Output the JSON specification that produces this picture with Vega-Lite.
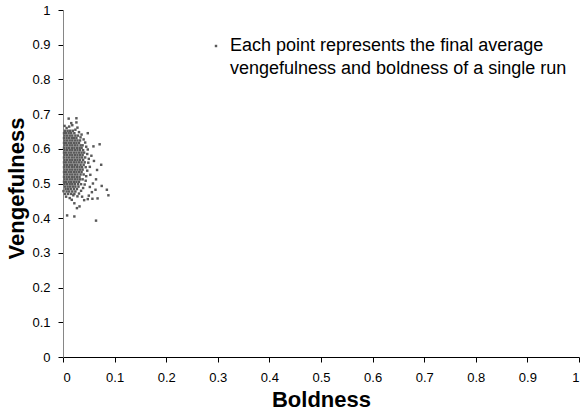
{
  "$schema": "https://vega.github.io/schema/vega-lite/v6.json",
  "width": 516,
  "height": 347,
  "autosize": "none",
  "padding": {"left": 63, "top": 10, "right": 2, "bottom": 58},
  "background": "white",
  "config": {"view": {"stroke": null}, "font": "Liberation Sans"},
  "datasets": {
    "core": [
      {"v":0.652,"b":[0.004,0.009,0.014,0.019]},
      {"v":0.645,"b":[0.002,0.006,0.011,0.016,0.022]},
      {"v":0.638,"b":[0.003,0.008,0.013,0.018,0.024,0.029]},
      {"v":0.631,"b":[0.002,0.007,0.012,0.017,0.021,0.026]},
      {"v":0.624,"b":[0.003,0.008,0.013,0.018,0.023,0.028,0.033]},
      {"v":0.617,"b":[0.002,0.006,0.011,0.016,0.021,0.026,0.031]},
      {"v":0.610,"b":[0.003,0.008,0.013,0.018,0.023,0.028,0.034,0.038]},
      {"v":0.603,"b":[0.002,0.007,0.012,0.017,0.022,0.027,0.032,0.036]},
      {"v":0.596,"b":[0.003,0.008,0.013,0.018,0.023,0.028,0.033,0.039]},
      {"v":0.589,"b":[0.002,0.006,0.011,0.016,0.021,0.026,0.031,0.036,0.041]},
      {"v":0.582,"b":[0.003,0.008,0.013,0.018,0.023,0.028,0.033,0.038]},
      {"v":0.575,"b":[0.002,0.007,0.012,0.017,0.022,0.027,0.032,0.037,0.043]},
      {"v":0.568,"b":[0.003,0.008,0.013,0.018,0.023,0.028,0.033,0.039]},
      {"v":0.561,"b":[0.002,0.006,0.011,0.016,0.021,0.026,0.031,0.036,0.042]},
      {"v":0.554,"b":[0.003,0.008,0.013,0.018,0.023,0.028,0.034,0.040]},
      {"v":0.547,"b":[0.002,0.007,0.012,0.017,0.022,0.027,0.032,0.037,0.044]},
      {"v":0.540,"b":[0.003,0.008,0.013,0.018,0.023,0.028,0.033,0.038]},
      {"v":0.533,"b":[0.002,0.006,0.011,0.016,0.021,0.026,0.031,0.036]},
      {"v":0.526,"b":[0.003,0.008,0.013,0.018,0.023,0.028,0.034,0.040]},
      {"v":0.519,"b":[0.002,0.007,0.012,0.017,0.022,0.027,0.032]},
      {"v":0.512,"b":[0.003,0.008,0.013,0.018,0.023,0.028,0.033,0.038]},
      {"v":0.505,"b":[0.002,0.006,0.011,0.016,0.021,0.026,0.031]},
      {"v":0.498,"b":[0.003,0.008,0.013,0.018,0.023,0.029,0.035]},
      {"v":0.491,"b":[0.004,0.009,0.014,0.019,0.024,0.030]},
      {"v":0.484,"b":[0.005,0.010,0.015,0.021,0.027]},
      {"v":0.477,"b":[0.007,0.012,0.018,0.024]},
      {"v":0.470,"b":[0.010,0.016,0.022]}
    ],
    "extra": [
      {"b":0.031,"v":0.648},{"b":0.036,"v":0.641},{"b":0.034,"v":0.633},{"b":0.040,"v":0.627},
      {"b":0.043,"v":0.618},{"b":0.045,"v":0.606},{"b":0.048,"v":0.598},{"b":0.047,"v":0.585},
      {"b":0.050,"v":0.571},{"b":0.049,"v":0.560},{"b":0.052,"v":0.548},{"b":0.047,"v":0.537},
      {"b":0.045,"v":0.521},{"b":0.044,"v":0.508},{"b":0.042,"v":0.497},{"b":0.039,"v":0.487},
      {"b":0.035,"v":0.479},{"b":0.031,"v":0.471},{"b":0.028,"v":0.463},{"b":0.004,"v":0.470},
      {"b":0.001,"v":0.478},{"b":0.006,"v":0.462},{"b":0.013,"v":0.458},{"b":0.020,"v":0.466},
      {"b":0.024,"v":0.655},{"b":0.028,"v":0.661},{"b":0.007,"v":0.660},{"b":0.012,"v":0.664},
      {"b":0.018,"v":0.668},{"b":0.003,"v":0.666},
      {"b":0.011,"v":0.687},{"b":0.026,"v":0.688},{"b":0.026,"v":0.676},{"b":0.016,"v":0.674},
      {"b":0.048,"v":0.645},{"b":0.071,"v":0.613},{"b":0.059,"v":0.607},
      {"b":0.074,"v":0.554},{"b":0.066,"v":0.539},{"b":0.064,"v":0.512},{"b":0.075,"v":0.493},
      {"b":0.085,"v":0.482},{"b":0.088,"v":0.466},{"b":0.063,"v":0.482},{"b":0.067,"v":0.457},
      {"b":0.057,"v":0.456},{"b":0.048,"v":0.455},{"b":0.027,"v":0.429},{"b":0.032,"v":0.434},
      {"b":0.022,"v":0.443},{"b":0.008,"v":0.408},{"b":0.022,"v":0.405},{"b":0.064,"v":0.393},
      {"b":0.017,"v":0.453},{"b":0.037,"v":0.462},{"b":0.055,"v":0.580},{"b":0.060,"v":0.565},
      {"b":0.053,"v":0.525},{"b":0.058,"v":0.500},{"b":0.052,"v":0.490},{"b":0.056,"v":0.475},
      {"b":0.041,"v":0.452},{"b":0.050,"v":0.465}
    ]
  },
  "encoding": {
    "x": {"field": "b", "type": "quantitative",
      "scale": {"domain": [0, 1], "nice": false, "zero": true},
      "axis": {"title": "Boldness", "values": [0,0.1,0.2,0.3,0.4,0.5,0.6,0.7,0.8,0.9,1],
        "grid": false, "domainColor": "#000000", "tickColor": "#000000", "tickSize": 5,
        "labelPadding": 9, "labelFontSize": 13, "labelColor": "#000000", "labelOverlap": false,
        "titleFontSize": 22, "titleFontWeight": "bold", "titleColor": "#000000", "titlePadding": 5,
        "labelExpr": "datum.value == 0 ? '0' : datum.value == 1 ? '1' : format(datum.value, '.1f')"}},
    "y": {"field": "v", "type": "quantitative",
      "scale": {"domain": [0, 1], "nice": false, "zero": true},
      "axis": {"title": "Vengefulness", "values": [0,0.1,0.2,0.3,0.4,0.5,0.6,0.7,0.8,0.9,1],
        "grid": false, "domainColor": "#868686", "tickColor": "#000000", "tickSize": 5,
        "labelPadding": 8, "labelFontSize": 13, "labelColor": "#000000", "labelOverlap": false,
        "titleFontSize": 22, "titleFontWeight": "bold", "titleColor": "#000000", "titlePadding": 3,
        "titleY": 178,
        "labelExpr": "datum.value == 0 ? '0' : datum.value == 1 ? '1' : format(datum.value, '.1f')"}},
    "color": {"datum": "line1",
      "scale": {"domain": ["line1", "line2"], "range": ["#595959", "rgba(0,0,0,0)"]},
      "legend": {"orient": "none", "legendX": 144, "legendY": 27, "title": null,
        "symbolType": "square", "symbolSize": 6, "symbolStrokeWidth": 0, "rowPadding": 5,
        "labelFontSize": 18, "labelColor": "#000000", "labelLimit": 450, "labelOffset": 5,
        "labelExpr": "datum.label == 'line1' ? 'Each point represents the final average' : 'vengefulness and boldness of a single run'"}}
  },
  "layer": [
    {
      "data": {"name": "core"},
      "transform": [{"flatten": ["b"]}],
      "mark": {"type": "point", "shape": "square", "filled": true, "size": 6, "opacity": 1}
    },
    {
      "data": {"name": "extra"},
      "mark": {"type": "point", "shape": "square", "filled": true, "size": 6, "opacity": 1}
    }
  ]
}
